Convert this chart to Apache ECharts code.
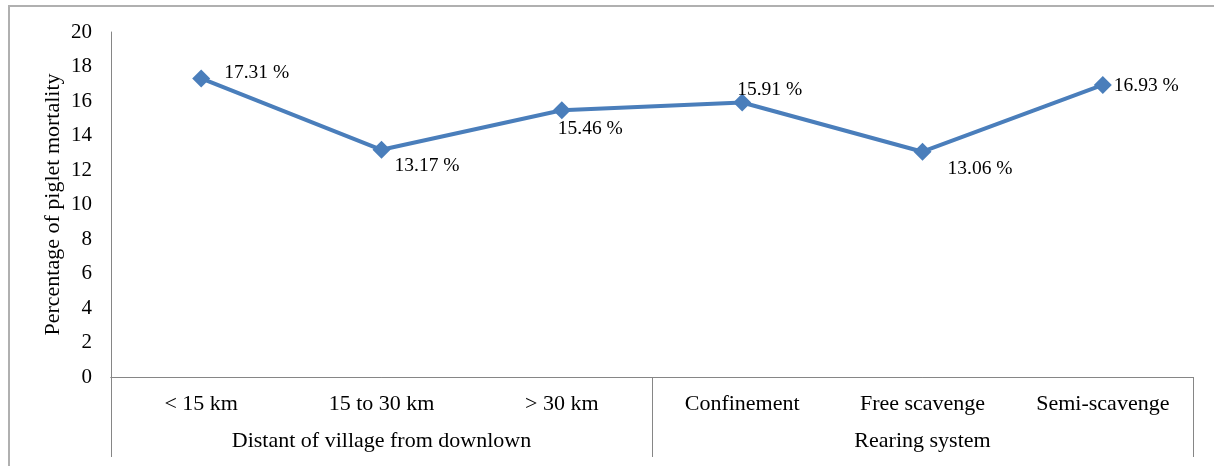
<!DOCTYPE html>
<html>
<head>
<meta charset="utf-8">
<script src="https://cdn.jsdelivr.net/npm/echarts@6/dist/echarts.min.js"></script>
<style>
html,body{margin:0;padding:0;background:#fff;overflow:hidden;}
#c{width:1214px;height:466px;position:absolute;left:0;top:0;}
#frame{position:absolute;left:8px;top:5px;width:1400px;height:700px;border:2px solid #b0b0b0;pointer-events:none;box-sizing:border-box;}
</style>
</head>
<body>
<div id="c"></div>
<div id="frame"></div>
<script>
const categories = ['< 15 km', '15 to 30 km', '> 30 km', 'Confinement', 'Free scavenge', 'Semi-scavenge'];
const groups = ['Distant of village from downlown', 'Rearing system'];
const values = [17.31, 13.17, 15.46, 15.91, 13.06, 16.93];
const labelOffsets = [[10, -6], [0, 16], [-17, 19], [-18, -13], [12, 17], [-2, 1]];
const yTitle = 'Percentage of piglet mortality';

const font = '"Liberation Serif", "Times New Roman", serif';
const chart = echarts.init(document.getElementById('c'));
chart.setOption({
  animation: false,
  grid: {left: 111, right: 21, top: 32, bottom: 89},
  xAxis: [
    {
      type: 'category', data: categories, boundaryGap: true,
      axisLine: {lineStyle: {color: '#868686', width: 1}},
      axisTick: {show: false},
      axisLabel: {color: '#000', fontFamily: font, fontSize: 22, margin: 16, interval: 0}
    },
    {
      type: 'category', data: groups, position: 'bottom', boundaryGap: true,
      axisLine: {lineStyle: {color: '#868686', width: 1}},
      axisTick: {show: true, length: 80, lineStyle: {color: '#868686', width: 1}},
      axisLabel: {color: '#000', fontFamily: font, fontSize: 22, margin: 53, interval: 0}
    }
  ],
  yAxis: {
    type: 'value', min: 0, max: 20, interval: 2,
    name: yTitle, nameLocation: 'middle', nameRotate: 90, nameGap: 47,
    nameMoveOverlap: false,
    nameTextStyle: {color: '#000', fontFamily: font, fontSize: 22},
    axisLine: {show: true, lineStyle: {color: '#868686', width: 1}},
    axisTick: {show: false},
    splitLine: {show: false},
    axisLabel: {color: '#000', fontFamily: font, fontSize: 21, margin: 19}
  },
  series: [{
    type: 'line', xAxisIndex: 0,
    data: values.map((v, i) => ({
      value: v,
      label: {offset: labelOffsets[i]}
    })),
    symbol: 'diamond', symbolSize: 18,
    lineStyle: {color: '#4a7ebb', width: 4},
    itemStyle: {color: '#4a7ebb'},
    label: {
      show: true, position: 'right', distance: 4,
      color: '#000', fontFamily: font, fontSize: 19.5,
      formatter: p => p.value.toFixed(2) + ' %'
    }
  }]
});
</script>
</body>
</html>
